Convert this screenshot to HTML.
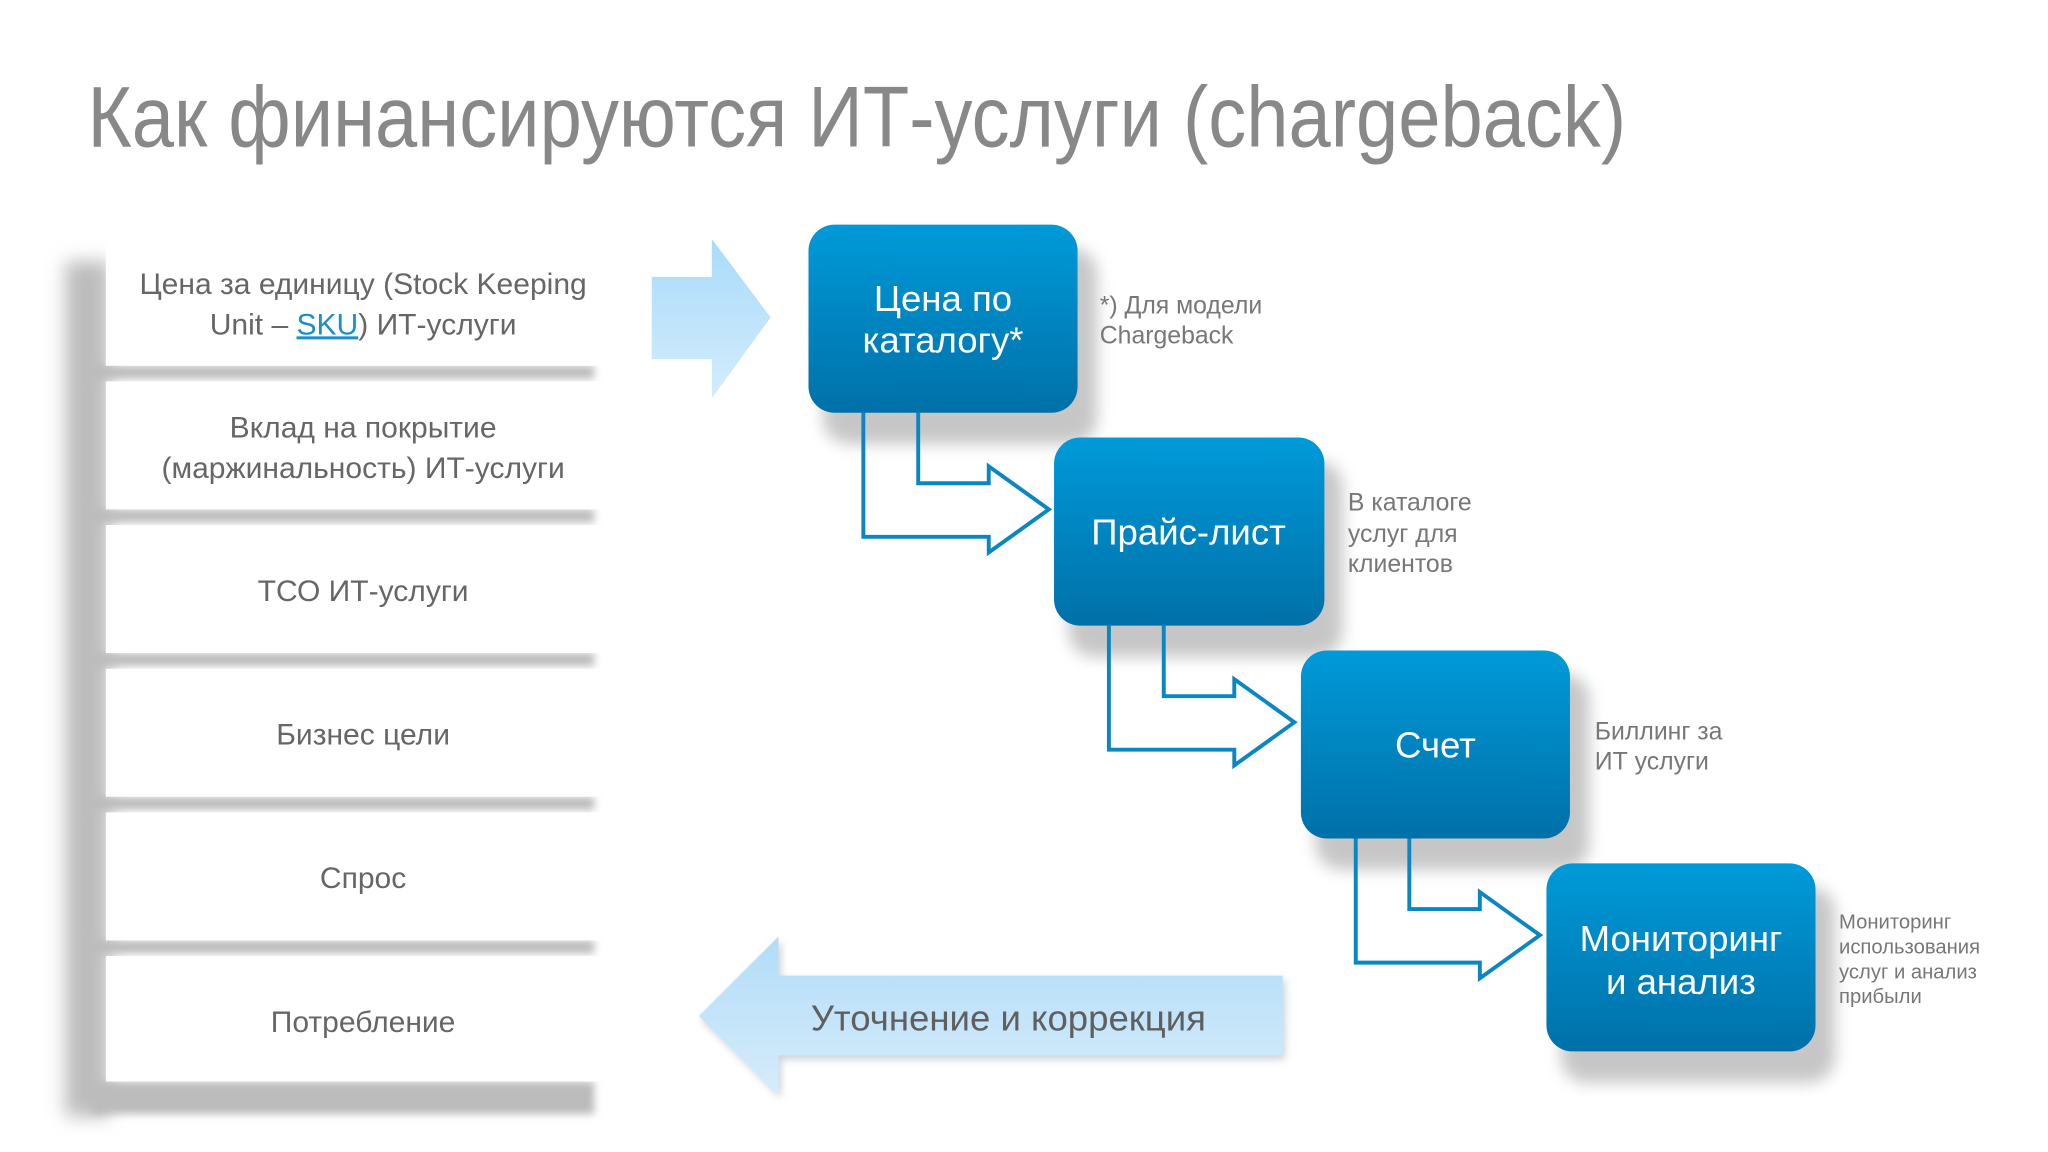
<!DOCTYPE html>
<html><head><meta charset="utf-8"><style>
html,body{margin:0;padding:0;background:#fff;}
svg{display:block;}
text{font-family:"Liberation Sans","DejaVu Sans",sans-serif;}
</style></head><body>
<svg width="2048" height="1152" viewBox="0 0 1568 882" xmlns="http://www.w3.org/2000/svg">
<defs>
<linearGradient id="bx" x1="0" y1="0" x2="0" y2="1"><stop offset="0" stop-color="#009ad9"/><stop offset="1" stop-color="#0070a8"/></linearGradient>
<linearGradient id="la" x1="0" y1="0" x2="0" y2="1"><stop offset="0" stop-color="#a9dbfa"/><stop offset="1" stop-color="#d4ecfc"/></linearGradient>
<linearGradient id="ra" x1="0" y1="0" x2="0" y2="1"><stop offset="0" stop-color="#b2dcf8"/><stop offset="1" stop-color="#d6ecfb"/></linearGradient>
<filter id="bl" x="-20%" y="-20%" width="140%" height="140%"><feGaussianBlur stdDeviation="6"/></filter>
<filter id="bl2" x="-20%" y="-20%" width="140%" height="140%"><feGaussianBlur stdDeviation="3"/></filter>
<filter id="bl3" x="-50%" y="-10%" width="200%" height="120%"><feGaussianBlur stdDeviation="7"/></filter>
</defs>
<rect width="1568" height="882" fill="#fff"/>
<text x="67" y="112" font-size="66" fill="#888" textLength="1178" lengthAdjust="spacingAndGlyphs">Как финансируются ИТ-услуги (chargeback)</text>

<rect x="50" y="200" width="34" height="655" fill="#bcbcbc" filter="url(#bl3)"/>
<g fill="#bcbcbc" filter="url(#bl2)">
<rect x="70" y="280" width="385" height="10"/>
<rect x="70" y="390" width="385" height="10"/>
<rect x="70" y="500" width="385" height="10"/>
<rect x="70" y="610" width="385" height="10"/>
<rect x="70" y="720" width="385" height="10"/>
<rect x="70" y="828" width="385" height="25"/>
</g>
<g fill="#fff">
<rect x="81" y="185" width="390" height="95"/>
<rect x="81" y="292" width="390" height="98"/>
<rect x="81" y="402" width="390" height="98"/>
<rect x="81" y="512" width="390" height="98"/>
<rect x="81" y="622" width="390" height="98"/>
<rect x="81" y="732" width="390" height="96"/>
</g>
<g font-size="23" fill="#666" text-anchor="middle">
<text x="278" y="225">Цена за единицу (Stock Keeping</text>
<text x="278" y="256">Unit – <tspan fill="#1a8fc8" text-decoration="underline">SKU</tspan>) ИТ-услуги</text>
<text x="278" y="335">Вклад на покрытие</text>
<text x="278" y="366">(маржинальность) ИТ-услуги</text>
<text x="278" y="460">ТСО ИТ-услуги</text>
<text x="278" y="570">Бизнес цели</text>
<text x="278" y="680">Спрос</text>
<text x="278" y="790">Потребление</text>
</g>

<polygon points="499,212 545,212 545,183 590,243 545,305 545,275 499,275" fill="url(#la)"/>

<g fill="#999" opacity="0.55" filter="url(#bl)">
<rect x="630" y="190" width="210" height="150" rx="20"/>
<rect x="818" y="353" width="210" height="150" rx="20"/>
<rect x="1007" y="516" width="210" height="150" rx="20"/>
<rect x="1195" y="679" width="210" height="150" rx="20"/>
</g>

<g fill="none" stroke="#0a86c0" stroke-width="3" stroke-linejoin="miter">
<polyline points="703,316 703,370 757,370 757,357 803,390 757,423 757,411 661,411 661,316"/>
<polyline points="891,479 891,533 945,533 945,520 991,553 945,586 945,574 849,574 849,479"/>
<polyline points="1079,642 1079,696 1133,696 1133,683 1179,716 1133,749 1133,737 1038,737 1038,642"/>
</g>

<g fill="url(#bx)">
<rect x="619" y="172" width="206" height="144" rx="20"/>
<rect x="807" y="335" width="207" height="144" rx="20"/>
<rect x="996" y="498" width="206" height="144" rx="20"/>
<rect x="1184" y="661" width="206" height="144" rx="20"/>
</g>
<g fill="#fff" font-size="28" text-anchor="middle">
<text x="722" y="238">Цена по</text>
<text x="722" y="270">каталогу*</text>
<text x="910" y="417">Прайс-лист</text>
<text x="1099" y="580">Счет</text>
<text x="1287" y="728">Мониторинг</text>
<text x="1287" y="761">и анализ</text>
</g>

<g fill="#777" font-size="19">
<text x="842" y="240">*) Для модели</text>
<text x="842" y="263">Chargeback</text>
<text x="1032" y="391">В каталоге</text>
<text x="1032" y="415">услуг для</text>
<text x="1032" y="438">клиентов</text>
<text x="1221" y="566">Биллинг за</text>
<text x="1221" y="589">ИТ услуги</text>
</g>
<g fill="#777" font-size="15.5">
<text x="1408" y="711">Мониторинг</text>
<text x="1408" y="730">использования</text>
<text x="1408" y="749">услуг и анализ</text>
<text x="1408" y="768">прибыли</text>
</g>

<polygon points="535,778 596,717 596,747 982,747 982,808 596,808 596,838" fill="#9aa4ae" opacity="0.5" filter="url(#bl2)" transform="translate(2,3)"/>
<polygon points="535,778 596,717 596,747 982,747 982,808 596,808 596,838" fill="url(#ra)"/>
<text x="772" y="789" font-size="28" fill="#5f5f5f" text-anchor="middle">Уточнение и коррекция</text>
</svg>
</body></html>
